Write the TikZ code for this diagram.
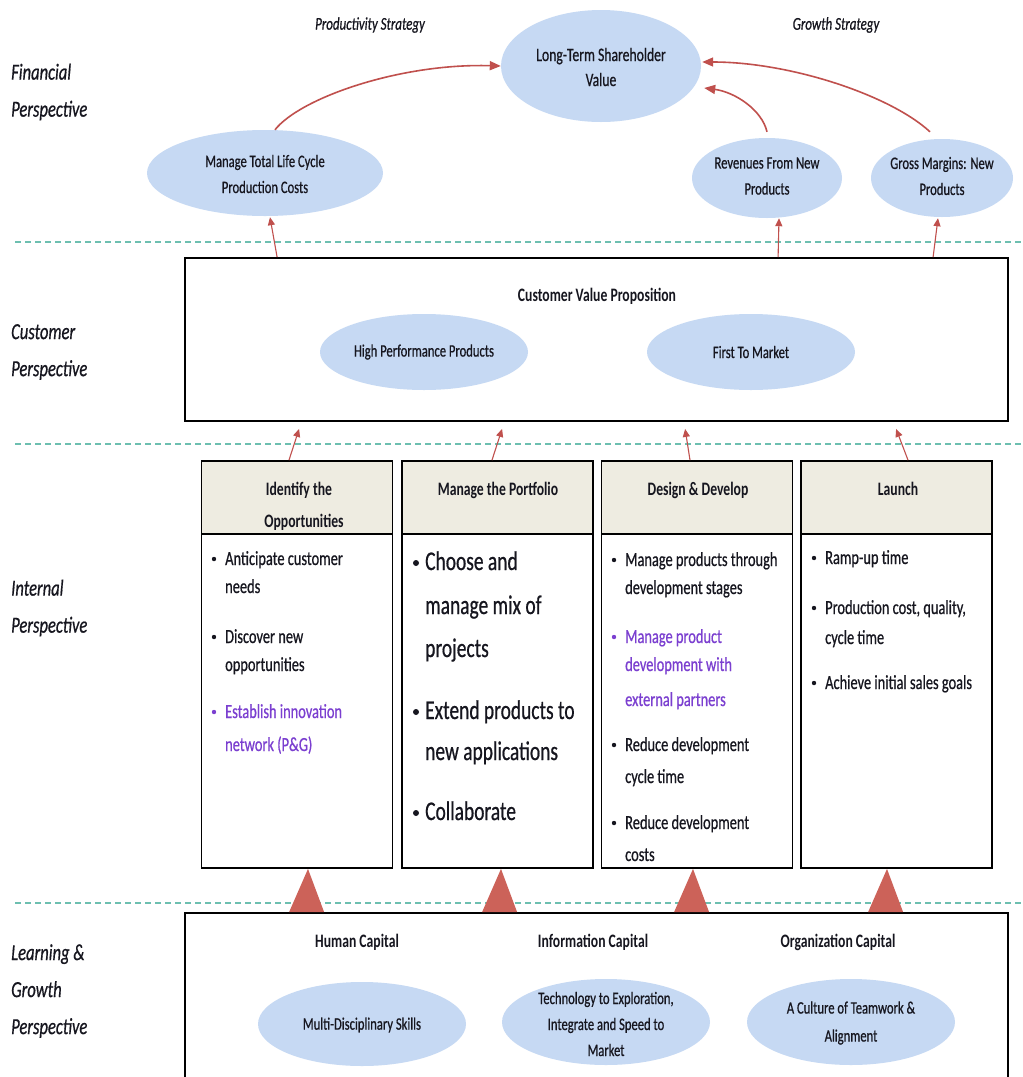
\documentclass[tikz,border=0pt]{standalone}
\usepackage{fontspec}
\setmainfont{Carlito}[FakeStretch=0.72, UprightFeatures={FakeBold=0.6}, ItalicFeatures={FakeBold=0.6}]
\usetikzlibrary{arrows.meta,calc,shapes.geometric}
\definecolor{ellfill}{HTML}{C6D9F3}
\definecolor{hdrfill}{HTML}{EEECE1}
\definecolor{arrred}{HTML}{C0504D}
\definecolor{trired}{HTML}{CC6259}
\definecolor{dashteal}{HTML}{6DBFB0}
\definecolor{purp}{HTML}{7B3FD0}
\definecolor{ink}{HTML}{16161F}
\newcounter{tlc}
\newcommand\txtline[3]{\stepcounter{tlc}\node[#1] (tl\arabic{tlc}) at (#2) {#3};}
\newcommand\fsz[1]{\fontsize{#1}{#1}\selectfont}
\begin{document}
\begin{tikzpicture}[x=1pt,y=-1pt,
  tline/.style={anchor=base west, inner sep=0pt, text=ink},
  cline/.style={anchor=base, inner sep=0pt, text=ink},
  b20/.style={tline, font=\fsz{20}},
  b27/.style={tline, font=\fsz{27}},
  pur/.style={text=purp},
  hfont/.style={cline, font=\bfseries\fsz{19}},
  ell/.style={ellipse, fill=ellfill, inner sep=0pt},
  etext/.style={align=center, inner sep=0pt, text=ink},
  box/.style={draw=black, line width=1.8pt, inner sep=0pt},
  hdr/.style={box, fill=hdrfill, minimum width=191pt, minimum height=73pt},
  body/.style={box, fill=white, minimum width=191pt, minimum height=334pt},
  arr/.style={draw=arrred, line width=1.1pt, -{Triangle[length=8pt,width=7pt]}},
  carr/.style={draw=arrred, line width=1.6pt, -{Triangle[length=11pt,width=9pt]}},
  dashline/.style={draw=dashteal, line width=2.5pt, dash pattern=on 6pt off 4pt},
  persp/.style={anchor=west, align=left, inner sep=0pt, text=ink, font=\itshape\fontsize{23}{37}\selectfont},
  strat/.style={inner sep=0pt, text=ink, font=\itshape\fsz{18}},
  tri/.style={fill=trired}
]
\useasboundingbox (0,0) rectangle (1023,1077);
\fill[white] (0,0) rectangle (1023,1077);

% dashed separators
\draw[dashline] (15,242) -- (1023,242);
\draw[dashline] (15,444) -- (1023,444);
\draw[dashline] (15,903) -- (1023,903);

% perspective labels
\node[persp] (fin) at (11,92) {Financial\\Perspective};
\node[persp] (cus) at (11,352) {Customer\\Perspective};
\node[persp] (int) at (11,608) {Internal\\Perspective};
\node[persp] (lrn) at (11,991) {Learning \&\\Growth\\Perspective};

% strategy labels
\node[strat] (ps) at (370,25) {Productivity Strategy};
\node[strat] (gs) at (836,25) {Growth Strategy};

% financial ellipses
\node[ell, minimum width=200pt, minimum height=112pt] (ltsv) at (601,66) {};
\node[etext, font=\fontsize{19}{25}\selectfont] (ltsvt) at (601,67) {Long-Term Shareholder\\Value};
\node[ell, minimum width=236pt, minimum height=86pt] (mtlc) at (265,173) {};
\node[etext, font=\fontsize{17.5}{26}\selectfont] (mtlct) at (265,174) {Manage Total Life Cycle\\Production Costs};
\node[ell, minimum width=150pt, minimum height=80pt] (rev) at (767,178) {};
\node[etext, font=\fontsize{17.5}{26}\selectfont] (revt) at (767,176) {Revenues From New\\Products};
\node[ell, minimum width=142pt, minimum height=78pt] (gm) at (942,178) {};
\node[etext, font=\fontsize{17.5}{26}\selectfont] (gmt) at (942,176) {Gross Margins: New\\Products};

% curved arrows to shareholder value
\draw[carr] ($(mtlc.north)+(10,0)$) .. controls (300,98) and (400,63) .. (ltsv.west);
\draw[carr] ($(rev.north)+(0,-6)$) .. controls (762,110) and (735,92) .. ($(ltsv.east)+(3,22)$);
\draw[carr] ($(gm.north)+(-12,-7)$) .. controls (890,95) and (790,62) .. ($(ltsv.east)+(1,-4)$);

% customer box
\node[box, minimum width=823pt, minimum height=163pt] (cbox) at (596.5,339.5) {};
\node[hfont] (cvp) at (597,301) {Customer Value Proposition};
\node[ell, minimum width=208pt, minimum height=76pt] (hpp) at (424,352) {};
\node[etext, font=\fsz{17.5}] (hppt) at (424,352) {High Performance Products};
\node[ell, minimum width=208pt, minimum height=76pt] (ftm) at (751,352) {};
\node[etext, font=\fsz{17.5}] (ftmt) at (751,352) {First To Market};

% arrows customer -> financial
\draw[arr] ($(cbox.north west)+(93,0)$) -- ($(mtlc.south)+(5,1)$);
\draw[arr] ($(cbox.north west)+(594,0)$) -- ($(rev.south)+(12,0)$);
\draw[arr] ($(cbox.north west)+(749,0)$) -- ($(gm.south)+(-4,1)$);

% internal process boxes
\node[hdr] (h1) at (297,497.5) {};
\node[hdr] (h2) at (497.5,497.5) {};
\node[hdr] (h3) at (697,497.5) {};
\node[hdr] (h4) at (896.5,497.5) {};
\node[body] (c1) at (297,701) {};
\node[body] (c2) at (497.5,701) {};
\node[body] (c3) at (697,701) {};
\node[body] (c4) at (896.5,701) {};

% arrows internal -> customer
\draw[arr] ($(h1.north)+(-8,0)$) -- ($(cbox.south west)+(115,7)$);
\draw[arr] ($(h2.north)+(-5.5,0)$) -- ($(cbox.south west)+(318,7)$);
\draw[arr] ($(h3.north)+(-7,0)$) -- ($(cbox.south west)+(501,7)$);
\draw[arr] ($(h4.north)+(11.5,0)$) -- ($(cbox.south west)+(712,7)$);

% headers
\txtline{hfont}{299,495}{Identify the}
\txtline{hfont}{304,527}{Opportunities}
\txtline{hfont}{498,495}{Manage the Portfolio}
\txtline{hfont}{698,495}{Design \& Develop}
\txtline{hfont}{898,495}{Launch}

% column 1
\fill[ink] (214,559) circle (2.2);
\txtline{b20}{225,565}{Anticipate customer}
\txtline{b20}{225,593}{needs}
\fill[ink] (214,637) circle (2.2);
\txtline{b20}{225,643}{Discover new}
\txtline{b20}{225,671}{opportunities}
\fill[purp] (214,712) circle (2.2);
\txtline{b20,pur}{225,718}{Establish innovation}
\txtline{b20,pur}{225,751}{network (P\&G)}

% column 2
\fill[ink] (416,563) circle (3);
\txtline{b27}{425,570}{Choose and}
\txtline{b27}{425,614}{manage mix of}
\txtline{b27}{425,657}{projects}
\fill[ink] (416,712) circle (3);
\txtline{b27}{425,719}{Extend products to}
\txtline{b27}{425,760}{new applications}
\fill[ink] (416,813) circle (3);
\txtline{b27}{425,820}{Collaborate}

% column 3
\fill[ink] (614,560) circle (2.2);
\txtline{b20}{625,566}{Manage products through}
\txtline{b20}{625,594}{development stages}
\fill[purp] (614,637) circle (2.2);
\txtline{b20,pur}{625,643}{Manage product}
\txtline{b20,pur}{625,671}{development with}
\txtline{b20,pur}{625,706}{external partners}
\fill[ink] (614,745) circle (2.2);
\txtline{b20}{625,751}{Reduce development}
\txtline{b20}{625,783}{cycle time}
\fill[ink] (614,823) circle (2.2);
\txtline{b20}{625,829}{Reduce development}
\txtline{b20}{625,861}{costs}

% column 4
\fill[ink] (814,558) circle (2.2);
\txtline{b20}{825,564}{Ramp-up time}
\fill[ink] (814,608) circle (2.2);
\txtline{b20}{825,614}{Production cost, quality,}
\txtline{b20}{825,644}{cycle time}
\fill[ink] (814,683) circle (2.2);
\txtline{b20}{825,689}{Achieve initial sales goals}

% learning & growth box
\node[box, minimum width=823pt, minimum height=180pt] (lbox) at (596.5,1003) {};
\node[hfont] (hc) at (357,947) {Human Capital};
\node[hfont] (ic) at (593,947) {Information Capital};
\node[hfont] (oc) at (838,947) {Organization Capital};
\node[ell, minimum width=208pt, minimum height=84pt] (msk) at (362,1024) {};
\node[etext, font=\fsz{17.5}] (mskt) at (362,1025) {Multi-Disciplinary Skills};
\node[ell, minimum width=208pt, minimum height=86pt] (tech) at (606,1022) {};
\node[etext, font=\fontsize{17.5}{26}\selectfont] (techt) at (606,1024) {Technology to Exploration,\\Integrate and Speed to\\Market};
\node[ell, minimum width=208pt, minimum height=86pt] (cult) at (851,1022) {};
\node[etext, font=\fontsize{17.5}{28}\selectfont] (cultt) at (851,1023) {A Culture of Teamwork \&\\Alignment};

% big triangles learning -> internal
\fill[tri] ($(c1.south)+(11,0)$) -- ($(lbox.north west)+(105,0)$) -- ($(lbox.north west)+(140,0)$) -- cycle;
\fill[tri] ($(c2.south)+(3.5,0)$) -- ($(lbox.north west)+(298,0)$) -- ($(lbox.north west)+(333,0)$) -- cycle;
\fill[tri] ($(c3.south)+(-4,0)$) -- ($(lbox.north west)+(490,0)$) -- ($(lbox.north west)+(525,0)$) -- cycle;
\fill[tri] ($(c4.south)+(-9.5,0)$) -- ($(lbox.north west)+(684,0)$) -- ($(lbox.north west)+(719,0)$) -- cycle;
\end{tikzpicture}
\end{document}
